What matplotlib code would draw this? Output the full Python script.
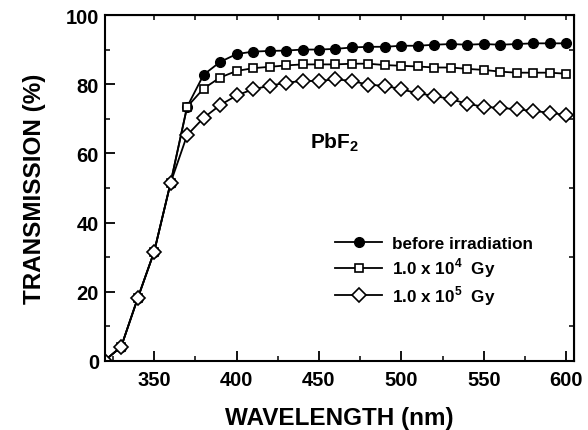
import matplotlib
matplotlib.use("Agg")
import matplotlib.pyplot as plt
from matplotlib.ticker import MultipleLocator

plt.rcParams['font.family'] = ['Liberation Sans', 'DejaVu Sans']
plt.rcParams['font.weight'] = 'bold'
plt.rcParams['mathtext.fontset'] = 'custom'
plt.rcParams['mathtext.rm'] = 'Liberation Sans:bold'
plt.rcParams['mathtext.bf'] = 'Liberation Sans:bold'

wavelength = list(range(320, 601, 10))
before = [0, 4, 18, 31.5, 51.5, 73.5, 82.8, 86.5, 88.8, 89.5, 89.7, 89.8, 90.1, 90.1,
          90.3, 90.7, 90.9, 90.9, 91.2, 91.2, 91.5, 91.7, 91.5, 91.7, 91.5, 91.7,
          91.9, 91.9, 91.9]
dose_1e4 = [0, 4, 18, 31.5, 51.5, 73.5, 78.8, 82.0, 83.9, 84.7, 85.1, 85.5, 85.8, 85.8,
            85.8, 86.0, 86.0, 85.6, 85.4, 85.2, 84.9, 84.9, 84.5, 84.2, 83.7, 83.4,
            83.4, 83.4, 83.1]
dose_1e5 = [0, 4, 18, 31.5, 51.5, 65.3, 70.3, 74.0, 76.8, 78.6, 79.6, 80.5, 81.0, 81.0,
            81.5, 81.0, 79.9, 79.6, 78.6, 77.4, 76.7, 75.7, 74.4, 73.5, 73.2, 72.8,
            72.3, 71.8, 71.1]
labels = ["before irradiation", r"1.0 x 10$^{4}$  Gy", r"1.0 x 10$^{5}$  Gy"]

fig = plt.figure(figsize=(5.88, 4.31), dpi=100)
ax = fig.add_axes([0.178, 0.161, 0.798, 0.801])

ax.plot(wavelength, before, '-o', color='black', lw=1.3, ms=7,
        mfc='black', mec='black', label=labels[0])
ax.plot(wavelength, dose_1e4, '-s', color='black', lw=1.3, ms=6,
        mfc='white', mec='black', mew=1.2, label=labels[1])
ax.plot(wavelength, dose_1e5, '-D', color='black', lw=1.3, ms=7.5,
        mfc='white', mec='black', mew=1.2, label=labels[2])

ax.set_xlim(320, 604.6)
ax.set_ylim(0, 100)
ax.xaxis.set_minor_locator(MultipleLocator(25))
ax.yaxis.set_major_locator(MultipleLocator(20))
ax.yaxis.set_minor_locator(MultipleLocator(10))
ax.set_xticks([350, 400, 450, 500, 550, 600])

ax.tick_params(which='major', direction='in', length=7, width=1.3, labelsize=14.5)
ax.tick_params(which='minor', direction='in', length=3.5, width=1.1)
ax.tick_params(axis='x', pad=7)
ax.tick_params(axis='y', pad=4)
for s in ax.spines.values():
    s.set_linewidth(1.5)

# small ticks on top and right spines
top = ax.secondary_xaxis('top')
top.set_xticks(list(range(350, 601, 25)))
top.tick_params(direction='in', length=3.5, width=1.1, labeltop=False)
right = ax.secondary_yaxis('right')
right.set_yticks(list(range(10, 100, 20)))
right.tick_params(direction='in', length=3.5, width=1.1, labelright=False)

ax.set_xlabel("WAVELENGTH (nm)", fontsize=17.5, fontweight='bold', labelpad=12)
ax.set_ylabel("TRANSMISSION (%)", fontsize=17.5, fontweight='bold', labelpad=14)

ax.text(0.437, 0.634, r"PbF$_{2}$", transform=ax.transAxes,
        fontsize=15, fontweight='bold', ha='left', va='center')
ax.legend(loc='upper left', bbox_to_anchor=(0.49, 0.36), frameon=False,
          fontsize=12.3, handlelength=2.8, handletextpad=0.55, labelspacing=0.25,
          borderaxespad=0, borderpad=0)

fig.savefig("out.png", dpi=100)
